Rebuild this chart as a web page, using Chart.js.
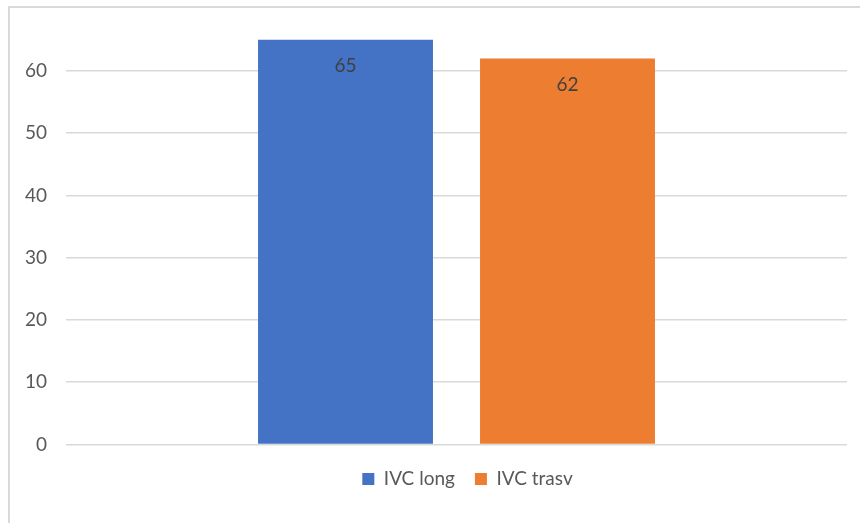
<!DOCTYPE html>
<html>
<head>
<meta charset="utf-8">
<script src="https://cdn.jsdelivr.net/npm/chart.js@4.4.1/dist/chart.umd.min.js"></script>
<style>
  html, body { margin: 0; padding: 0; background: #fff; }
  #wrap { width: 860px; height: 523px; position: relative; }
</style>
</head>
<body>
<div id="wrap"><canvas id="chart"></canvas></div>
<script>
// one category, two series
const categories = [''];
const seriesNames = ['IVC long', 'IVC trasv'];
const ivcLong = [65];
const ivcTrasv = [62];
const yTicks = [0, 10, 20, 30, 40, 50, 60];
const yMax = 70;

const blue = '#4472C4';
const orange = '#ED7D31';

// light gray frame round the whole chart area
const frame = {
  id: 'frame',
  beforeDraw(chart) {
    const ctx = chart.ctx;
    ctx.save();
    ctx.strokeStyle = '#d9d9d9';
    ctx.lineWidth = 2;
    ctx.strokeRect(9, 7, 900, 600);
    ctx.restore();
  }
};

// value labels just inside the top of every bar
const barValues = {
  id: 'barValues',
  afterDatasetsDraw(chart) {
    const ctx = chart.ctx;
    ctx.save();
    ctx.font = '19px Lato';
    ctx.fillStyle = '#404040';
    ctx.textAlign = 'center';
    ctx.textBaseline = 'middle';
    chart.data.datasets.forEach((ds, i) => {
      chart.getDatasetMeta(i).data.forEach((bar, j) => {
        ctx.fillText(ds.data[j], bar.x, bar.y + 26);
      });
    });
    ctx.restore();
  }
};

// legend sits centred on the wider chart object, nudge it right
const legendShift = {
  id: 'legendShift',
  afterLayout(chart) {
    chart.legend.left += 40;
    chart.legend.right += 40;
  }
};

Chart.defaults.font.family = 'Lato';

new Chart(document.getElementById('chart'), {
  type: 'bar',
  data: {
    labels: categories,
    datasets: [
      { label: seriesNames[0], data: ivcLong, backgroundColor: blue },
      { label: seriesNames[1], data: ivcTrasv, backgroundColor: orange }
    ]
  },
  options: {
    responsive: true,
    maintainAspectRatio: false,
    animation: false,
    categoryPercentage: 0.5685,
    barPercentage: 0.788,
    layout: { padding: { left: 8, right: 13, top: 8.6, bottom: 24.5 } },
    scales: {
      x: {
        grid: { display: false },
        border: { display: false },
        ticks: { display: false },
        afterFit(s) { s.height = 5; }
      },
      y: {
        min: 0,
        max: yMax,
        afterBuildTicks(s) {
          s.ticks = yTicks.map(v => ({ value: v }));
        },
        afterFit(s) {
          s.width = 58;
          s.paddingTop = 0;
          s.paddingBottom = 0;
        },
        border: { display: false },
        grid: { color: '#d9d9d9', lineWidth: 1.5, drawTicks: false },
        ticks: { color: '#595959', padding: 19, font: { size: 19 } }
      }
    },
    plugins: {
      legend: {
        position: 'bottom',
        labels: {
          color: '#595959',
          boxWidth: 12,
          boxHeight: 12,
          padding: 20,
          font: { size: 19 }
        }
      },
      tooltip: { enabled: false }
    }
  },
  plugins: [frame, barValues, legendShift]
});
</script>
</body>
</html>
